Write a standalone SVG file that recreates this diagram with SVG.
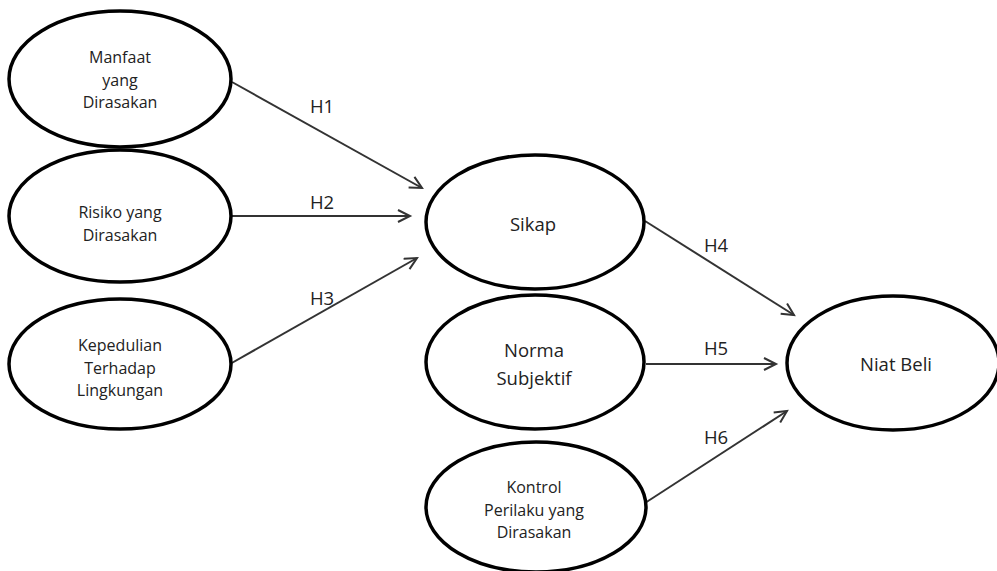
<svg xmlns="http://www.w3.org/2000/svg" width="997" height="571" viewBox="0 0 997 571">
<style>
.n{fill:#fff;stroke:#000;stroke-width:3.5}
.t{font-family:"Open Sans","Liberation Sans",sans-serif;font-size:16px;fill:#222;text-anchor:middle;dominant-baseline:central}
.b{font-size:18.5px}
.c{stroke:#333;stroke-width:2;fill:none;marker-end:url(#ah)}
.l{font-family:"Open Sans","Liberation Sans",sans-serif;font-size:18.5px;fill:#222;text-anchor:middle;dominant-baseline:central}
</style>
<defs>
<marker id="ah" markerWidth="16" markerHeight="16" refX="13" refY="7" orient="auto" markerUnits="userSpaceOnUse">
<polyline points="1,1 13,7 1,13" fill="none" stroke="#333" stroke-width="2"/>
</marker>
</defs>
<rect width="997" height="571" fill="#fff"/>
<g id="connectors">
<line class="c" x1="232" y1="82" x2="422" y2="188"/>
<line class="c" x1="231" y1="216" x2="410" y2="216"/>
<line class="c" x1="230" y1="364" x2="417" y2="258"/>
<line class="c" x1="645" y1="221" x2="794" y2="315"/>
<line class="c" x1="646" y1="364" x2="776" y2="364"/>
<line class="c" x1="645" y1="503" x2="787" y2="411"/>
<text class="l" x="322" y="105">H1</text>
<text class="l" x="322" y="201">H2</text>
<text class="l" x="322" y="297">H3</text>
<text class="l" x="716" y="244">H4</text>
<text class="l" x="716" y="347">H5</text>
<text class="l" x="716" y="436">H6</text>
</g>
<g id="manfaat">
<ellipse class="n" cx="120" cy="79" rx="111" ry="68"/>
<text class="t" x="120" y="57">Manfaat</text>
<text class="t" x="120" y="80">yang</text>
<text class="t" x="120" y="102">Dirasakan</text>
</g>
<g id="risiko">
<ellipse class="n" cx="120" cy="216" rx="111" ry="66"/>
<text class="t" x="120" y="212">Risiko yang</text>
<text class="t" x="120" y="235">Dirasakan</text>
</g>
<g id="kepedulian">
<ellipse class="n" cx="120" cy="364" rx="111" ry="65"/>
<text class="t" x="120" y="345">Kepedulian</text>
<text class="t" x="120" y="368">Terhadap</text>
<text class="t" x="120" y="390">Lingkungan</text>
</g>
<g id="sikap">
<ellipse class="n" cx="535" cy="222" rx="109" ry="67"/>
<text class="t b" x="533" y="223">Sikap</text>
</g>
<g id="norma">
<ellipse class="n" cx="535" cy="362" rx="109" ry="67"/>
<text class="t b" x="534" y="349">Norma</text>
<text class="t b" x="534" y="377">Subjektif</text>
</g>
<g id="kontrol">
<ellipse class="n" cx="536" cy="507" rx="110" ry="65"/>
<text class="t" x="534" y="487">Kontrol</text>
<text class="t" x="534" y="510">Perilaku yang</text>
<text class="t" x="534" y="532">Dirasakan</text>
</g>
<g id="niat">
<ellipse class="n" cx="893" cy="363" rx="106" ry="67"/>
<text class="t b" x="896" y="363">Niat Beli</text>
</g>
</svg>
